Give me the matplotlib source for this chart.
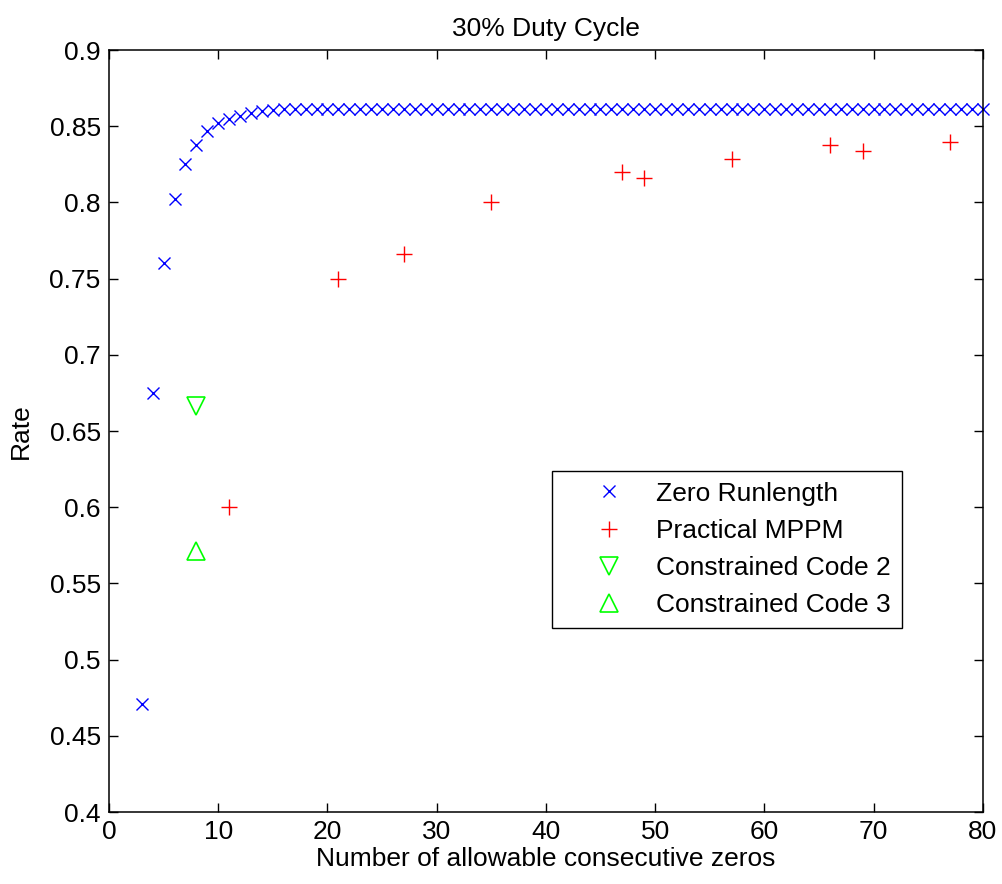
import numpy as np
import matplotlib
matplotlib.use("Agg")
import matplotlib.pyplot as plt

plt.rcParams['font.family'] = ['Liberation Sans', 'DejaVu Sans']

# zero runlength curve, x = 3..80
zr_x = list(range(3, 81))
zr_y = [0.471, 0.675, 0.760, 0.802, 0.825, 0.838, 0.847, 0.852, 0.855, 0.857,
        0.859, 0.860, 0.8605] + [0.861] * (80 - 15)

# practical MPPM
mppm_x = [11, 21, 27, 35, 47, 49, 57, 66, 69, 77]
mppm_y = [0.600, 0.750, 0.766, 0.800, 0.820, 0.816, 0.8285, 0.8377, 0.8337, 0.8396]

cc2_x = [8]
cc2_y = [0.6667]
cc3_x = [8]
cc3_y = [0.5714]

xticks = [0, 10, 20, 30, 40, 50, 60, 70, 80]
yticks = [0.4, 0.45, 0.5, 0.55, 0.6, 0.65, 0.7, 0.75, 0.8, 0.85, 0.9]
ylabels = ['0.4', '0.45', '0.5', '0.55', '0.6', '0.65', '0.7', '0.75', '0.8', '0.85', '0.9']

fs = 19

fig = plt.figure(figsize=(10.02, 8.84), dpi=100)
ax = fig.add_axes([0.1088, 0.0814, 0.8720, 0.8620])

ax.plot(zr_x, zr_y, 'x', color='#0000ff', ms=9, mew=1.0, ls='none', clip_on=False, label='Zero Runlength')
ax.plot(mppm_x, mppm_y, '+', color='#ff0000', ms=11.5, mew=1.0, ls='none', clip_on=False, label='Practical MPPM')
ax.plot(cc2_x, cc2_y, 'v', mfc='none', mec='#00ff00', ms=13.5, mew=1.2, ls='none', label='Constrained Code 2')
ax.plot(cc3_x, cc3_y, '^', mfc='none', mec='#00ff00', ms=13.5, mew=1.2, ls='none', label='Constrained Code 3')

ax.set_xlim(0, 80)
ax.set_ylim(0.4, 0.9)
ax.set_xticks(xticks)
ax.set_yticks(yticks)
ax.set_yticklabels(ylabels)
ax.tick_params(direction='in', length=6.5, width=1, top=True, right=True, labelsize=fs, pad=6)
for s in ax.spines.values():
    s.set_linewidth(1.1)

ax.set_title('30% Duty Cycle', fontsize=fs, pad=10)
ax.set_xlabel('Number of allowable consecutive zeros', fontsize=fs, labelpad=2)
ax.set_ylabel('Rate', fontsize=fs, labelpad=12)

leg = ax.legend(loc='upper left', bbox_to_anchor=(0.507, 0.4475), borderaxespad=0,
                fontsize=fs, handlelength=3.5, handletextpad=0.05, labelspacing=0.5,
                fancybox=False, framealpha=1, edgecolor='black', borderpad=0.4)
leg.get_frame().set_linewidth(1.0)

fig.savefig('out.png', dpi=100)
